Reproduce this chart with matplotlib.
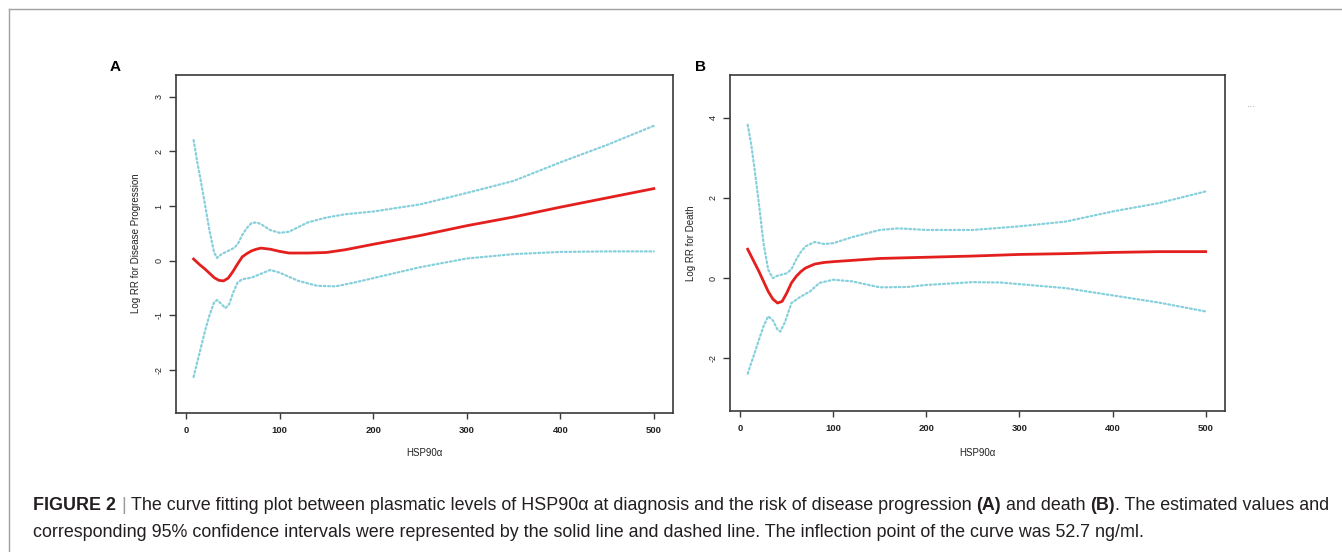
import matplotlib
matplotlib.use("Agg")
import matplotlib.pyplot as plt
from matplotlib.lines import Line2D

W, H = 1342, 552

# ---------------- data ----------------
a_fit_x = [8, 15, 20, 25, 30, 35, 40, 45, 50, 55, 60, 65, 70, 75, 80, 90, 100, 110, 130, 150, 170, 200, 250, 300, 350, 400, 450, 500]
a_fit_y = [0.03, -0.08, -0.15, -0.23, -0.31, -0.36, -0.37, -0.32, -0.20, -0.06, 0.07, 0.13, 0.18, 0.21, 0.23, 0.21, 0.17, 0.14, 0.14, 0.15, 0.20, 0.30, 0.46, 0.64, 0.80, 0.98, 1.15, 1.32]

a_up_x = [8, 12, 15, 20, 25, 30, 33, 38, 45, 52, 56, 60, 65, 70, 75, 80, 90, 100, 110, 130, 150, 170, 200, 250, 300, 350, 400, 450, 500]
a_up_y = [2.21, 1.80, 1.53, 1.05, 0.55, 0.15, 0.05, 0.12, 0.18, 0.24, 0.33, 0.47, 0.60, 0.69, 0.70, 0.67, 0.56, 0.51, 0.53, 0.70, 0.79, 0.85, 0.90, 1.03, 1.24, 1.46, 1.80, 2.12, 2.47]

a_lo_x = [8, 12, 15, 20, 25, 30, 33, 37, 42, 46, 50, 55, 60, 70, 80, 90, 100, 120, 140, 160, 180, 200, 250, 300, 350, 400, 450, 500]
a_lo_y = [-2.13, -1.85, -1.65, -1.30, -1.00, -0.76, -0.72, -0.78, -0.87, -0.80, -0.60, -0.40, -0.34, -0.31, -0.24, -0.17, -0.22, -0.37, -0.46, -0.47, -0.40, -0.32, -0.12, 0.04, 0.12, 0.16, 0.17, 0.17]

b_fit_x = [8, 15, 20, 25, 30, 35, 40, 45, 50, 55, 60, 65, 70, 80, 90, 100, 150, 200, 250, 300, 350, 400, 450, 500]
b_fit_y = [0.72, 0.40, 0.17, -0.08, -0.33, -0.52, -0.62, -0.58, -0.37, -0.12, 0.04, 0.16, 0.25, 0.35, 0.39, 0.41, 0.49, 0.52, 0.55, 0.59, 0.61, 0.64, 0.66, 0.66]

b_up_x = [8, 12, 15, 20, 25, 30, 35, 40, 45, 50, 55, 60, 65, 70, 80, 90, 100, 120, 150, 170, 200, 250, 300, 350, 400, 450, 500]
b_up_y = [3.82, 3.30, 2.78, 1.87, 0.87, 0.21, 0.00, 0.06, 0.09, 0.12, 0.22, 0.46, 0.65, 0.79, 0.90, 0.85, 0.87, 1.02, 1.20, 1.24, 1.20, 1.20, 1.29, 1.41, 1.66, 1.87, 2.16]

b_lo_x = [8, 12, 15, 20, 25, 30, 35, 40, 43, 48, 55, 65, 75, 85, 100, 120, 150, 180, 200, 250, 280, 300, 350, 400, 450, 500]
b_lo_y = [-2.38, -2.10, -1.90, -1.54, -1.20, -0.95, -1.05, -1.28, -1.33, -1.10, -0.62, -0.46, -0.33, -0.12, -0.04, -0.08, -0.23, -0.22, -0.17, -0.10, -0.11, -0.15, -0.25, -0.43, -0.61, -0.83]

x_ticks = [0, 100, 200, 300, 400, 500]
a_yticks = [-2, -1, 0, 1, 2, 3]
b_yticks = [-2, 0, 2, 4]

panel_labels = ["A", "B"]
y_labels = ["Log RR for Disease Progression", "Log RR for Death"]
x_label = "HSP90α"

caption_line1 = [
    ("FIGURE 2", "bold", "#231f20", False),
    ("|", "normal", "#9a9a9a", True),
    ("The curve fitting plot between plasmatic levels of HSP90α at diagnosis and the risk of disease progression", "normal", "#231f20", True),
    ("(A)", "bold", "#231f20", True),
    ("and death", "normal", "#231f20", True),
    ("(B)", "bold", "#231f20", True),
    (". The estimated values and", "normal", "#231f20", False),
]
caption_line2 = [
    ("corresponding 95% confidence intervals were represented by the solid line and dashed line. The inflection point of the curve was 52.7 ng/ml.", "normal", "#231f20", False),
]

# ---------------- style ----------------
FAM = "Liberation Sans"
plt.rcParams["font.family"] = [FAM, "DejaVu Sans"]
RED = "#e3201e"
CYAN = "#86d0dc"
BOX = "#3a3a3a"

fig = plt.figure(figsize=(W / 100, H / 100), dpi=100)
fig.patch.set_facecolor("white")


def px_axes(l, t, r, b):
    return fig.add_axes([l / W, 1 - b / H, (r - l) / W, (b - t) / H])


axA = px_axes(175.8, 75, 673.3, 412.5)
axB = px_axes(730, 75, 1225, 411)

specs = [
    (axA, a_fit_x, a_fit_y, a_up_x, a_up_y, a_lo_x, a_lo_y, a_yticks, (-2.78, 3.40)),
    (axB, b_fit_x, b_fit_y, b_up_x, b_up_y, b_lo_x, b_lo_y, b_yticks, (-3.31, 5.06)),
]

for ax, fx, fy, ux, uy, lx, ly, yt, ylim in specs:
    ax.plot(ux, uy, color=CYAN, lw=1.6, ls=(0, (0.8, 1.2)), dash_capstyle="round")
    ax.plot(lx, ly, color=CYAN, lw=1.6, ls=(0, (0.8, 1.2)), dash_capstyle="round")
    ax.plot(fx, fy, color=RED, lw=2.0, solid_joinstyle="round")
    ax.set_xlim(-11, 520.8)
    ax.set_ylim(*ylim)
    ax.set_xticks(x_ticks)
    ax.set_xticklabels([str(v) for v in x_ticks], fontsize=6.8, fontweight="bold", color="#222222")
    ax.set_yticks(yt)
    ax.set_yticklabels([str(v) for v in yt], fontsize=6.5, rotation=90, va="center", color="#222222")
    ax.tick_params(axis="x", length=4.5, width=1.0, color=BOX, pad=5)
    ax.tick_params(axis="y", length=5, width=1.0, color=BOX, pad=4)
    for s in ax.spines.values():
        s.set_color(BOX)
        s.set_linewidth(1.2)

# panel letters
fig.text(114.8 / W, 1 - 67 / H, panel_labels[0], fontsize=11, fontweight="bold", ha="center", va="center")
fig.text(700 / W, 1 - 67 / H, panel_labels[1], fontsize=11, fontweight="bold", ha="center", va="center")

# axis labels
fig.text(135.8 / W, 1 - 243.5 / H, y_labels[0], fontsize=7, rotation=90, ha="center", va="center", color="#222222")
fig.text(690.7 / W, 1 - 243 / H, y_labels[1], fontsize=7, rotation=90, ha="center", va="center", color="#222222")
fig.text(424.5 / W, 1 - 453 / H, x_label, fontsize=7, ha="center", va="center", color="#222222")
fig.text(977.5 / W, 1 - 453 / H, x_label, fontsize=7, ha="center", va="center", color="#222222")

# stray dots at right
fig.text(1252 / W, 1 - 107 / H, "···", fontsize=7, ha="center", va="center", color="#999999")

# frame lines
fig.add_artist(Line2D([9 / W, 1.0], [1 - 9 / H, 1 - 9 / H], transform=fig.transFigure, color="#a0a0a0", lw=1.0))
fig.add_artist(Line2D([9 / W, 9 / W], [0.0, 1 - 9 / H], transform=fig.transFigure, color="#a0a0a0", lw=1.0))

# caption, built from runs
fig.canvas.draw()
renderer = fig.canvas.get_renderer()


def text_w(s, size, weight):
    t = fig.text(0, 0, s, fontsize=size, fontweight=weight, family=[FAM, "DejaVu Sans"])
    w = t.get_window_extent(renderer).width
    t.remove()
    return w


def line_width(runs, size):
    sp = text_w("x x", size, "normal") - text_w("xx", size, "normal")
    total = 0.0
    for s, wgt, c, space in runs:
        if space:
            total += sp
        total += text_w(s, size, wgt)
    return total


def draw_runs(runs, x0, ybase, size):
    sp = text_w("x x", size, "normal") - text_w("xx", size, "normal")
    x = x0
    for s, wgt, c, space in runs:
        if space:
            x += sp
        fig.text(x / W, 1 - ybase / H, s, fontsize=size, fontweight=wgt, color=c,
                 ha="left", va="baseline", family=[FAM, "DejaVu Sans"])
        x += text_w(s, size, wgt)


base = 10.0
w1 = line_width(caption_line1, base)
size = base * (1335 - 33) / w1
draw_runs(caption_line1, 33, 510, size)
draw_runs(caption_line2, 33, 537, size)

fig.savefig("out.png", dpi=100, facecolor="white")
